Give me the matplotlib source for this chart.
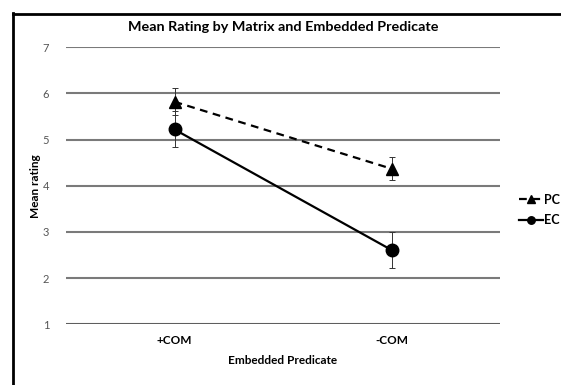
#!/usr/bin/env python3
"""
Mean rating by matrix and embedded predicate (interaction plot).
Outputs: out.png
"""
import matplotlib
matplotlib.use("Agg")
import matplotlib.pyplot as plt
from matplotlib.lines import Line2D

plt.rcParams["font.family"] = ["Lato", "DejaVu Sans"]

categories = ["+COM", "-COM"]
pc_mean = [5.82, 4.37]
pc_err = [0.29, 0.25]
ec_mean = [5.22, 2.61]
ec_err = [0.39, 0.40]
yticks = [1, 2, 3, 4, 5, 6, 7]

W, H = 561, 385
fig = plt.figure(figsize=(W / 100, H / 100), dpi=100)
ax = fig.add_axes([66 / W, 1 - 324.3 / H, 434 / W, 277 / H])

x = list(range(len(categories)))
grid_col = "#7a7a7a"

for yv in yticks:
    ax.axhline(yv, color=grid_col if yv > 1 else "#5e5e5e", lw=1.5, zorder=1)

ax.errorbar(x, pc_mean, yerr=pc_err, fmt="none", ecolor="#333333",
            elinewidth=0.7, capsize=2.2, capthick=0.7, zorder=2)
ax.errorbar(x, ec_mean, yerr=ec_err, fmt="none", ecolor="#333333",
            elinewidth=0.7, capsize=2.2, capthick=0.7, zorder=2)

ax.plot(x, pc_mean, color="black", lw=1.6, ls=(0, (3.5, 2.5)),
        marker="^", markersize=9, label="PC", zorder=3)
ax.plot(x, ec_mean, color="black", lw=1.6, ls="-",
        marker="o", markersize=9, label="EC", zorder=3)

ax.set_xlim(-0.5, 1.5)
ax.set_ylim(1, 7)
ax.set_yticks(yticks)
ax.set_yticklabels([str(v) for v in yticks], fontsize=8, color="#555555")
ax.set_xticks(x)
ax.set_xticklabels(categories, fontsize=8.5, fontweight="bold")
ax.tick_params(axis="y", length=0, pad=12)
ax.tick_params(axis="x", length=0, pad=8)
for s in ax.spines.values():
    s.set_visible(False)

ax.set_xlabel("Embedded Predicate", fontsize=8.5, fontweight="bold", labelpad=6)
ax.set_ylabel("Mean rating", fontsize=8.5, fontweight="bold", labelpad=1)
fig.text(283 / W, 1 - 27 / H, "Mean Rating by Matrix and Embedded Predicate",
         ha="center", va="center", fontsize=10.4, fontweight="bold")

leg = fig.legend(loc="center left", bbox_to_anchor=(508 / W, 1 - 210 / H),
                 frameon=False, fontsize=9, handlelength=1.9, handletextpad=0.1,
                 labelspacing=0.7, markerscale=0.6)
for t in leg.get_texts():
    t.set_fontweight("bold")

# outer chart border (left and top)
fig.add_artist(Line2D([12.5 / W, 12.5 / W], [0, 1 - 13 / H], color="black", lw=2))
fig.add_artist(Line2D([12.5 / W, 1], [1 - 13.5 / H, 1 - 13.5 / H], color="black", lw=2))

fig.savefig("out.png", dpi=100)
